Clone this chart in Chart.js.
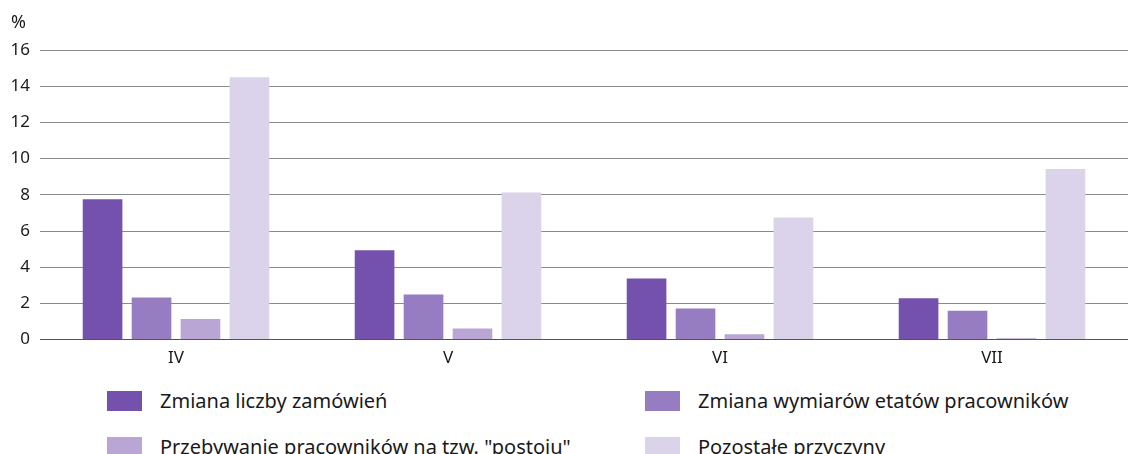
<!DOCTYPE html>
<html>
<head>
<meta charset="utf-8">
<script src="https://cdn.jsdelivr.net/npm/chart.js@4"></script>
<style>
  body { margin: 0; background: #fff; font-family: "Noto Sans", sans-serif; }
  #wrap { position: relative; width: 1128px; height: 376px; }
  #unit { position: absolute; left: 11px; top: 10px; font-size: 18px; color: #1a1a1a; line-height: 22px; }
  #legend { position: relative; width: 1128px; height: 78px; }
  .item { position: absolute; display: flex; align-items: center; font-size: 20px; color: #1a1a1a; white-space: nowrap; }
  .box { width: 35px; height: 20px; margin-right: 18px; }
</style>
</head>
<body>
<div id="wrap"><canvas id="chart"></canvas><div id="unit">%</div></div>
<div id="legend"></div>
<script>
// months (categories)
const months = ['IV', 'V', 'VI', 'VII'];
// series names
const seriesNames = [
  'Zmiana liczby zamówień',
  'Zmiana wymiarów etatów pracowników',
  'Przebywanie pracowników na tzw. "postoju"',
  'Pozostałe przyczyny'
];
// values in %
const ordersChange = [7.75, 4.93, 3.37, 2.28];
const hoursChange = [2.32, 2.49, 1.72, 1.6];
const downtime = [1.14, 0.61, 0.29, 0.08];
const otherReasons = [14.5, 8.13, 6.75, 9.42];
const yTicks = [0, 2, 4, 6, 8, 10, 12, 14, 16];

const colors = ['#7551ae', '#967cc0', '#b9a6d5', '#dbd3ea'];
const seriesValues = [ordersChange, hoursChange, downtime, otherReasons];
const fontFamily = '"Noto Sans", "DejaVu Sans", sans-serif';
const tickFont = { size: 17, family: fontFamily };

const ctx = document.getElementById('chart').getContext('2d');
new Chart(ctx, {
  type: 'bar',
  data: {
    labels: months,
    datasets: seriesValues.map((vals, i) => ({
      label: seriesNames[i],
      data: vals,
      backgroundColor: colors[i],
      categoryPercentage: 0.72,
      barPercentage: 0.81
    }))
  },
  options: {
    responsive: true,
    maintainAspectRatio: false,
    animation: false,
    // top padding leaves room for the "%" unit label
    layout: { padding: { top: 50, right: -3, left: 0, bottom: 0 } },
    scales: {
      x: {
        grid: { display: false, drawTicks: false },
        border: { display: false },
        ticks: { color: '#1a1a1a', font: tickFont, padding: 8 }
      },
      y: {
        min: 0,
        max: 16,
        afterBuildTicks: scale => { scale.ticks = yTicks.map(v => ({ value: v })); },
        afterFit: scale => { scale.width = 40; },
        grid: {
          color: ctx => ctx.tick && ctx.tick.value === 0 ? '#555' : '#8a8a8a',
          lineWidth: 1,
          drawTicks: false
        },
        border: { display: false },
        ticks: { color: '#1a1a1a', font: tickFont, padding: 10 }
      }
    },
    plugins: {
      legend: { display: false },
      tooltip: { enabled: false }
    }
  }
});

// legend below chart, two columns
const legend = document.getElementById('legend');
const spots = [[107, 11], [645, 11], [107, 57], [645, 57]];
seriesNames.forEach((name, i) => {
  const el = document.createElement('div');
  el.className = 'item';
  el.style.left = spots[i][0] + 'px';
  el.style.top = spots[i][1] + 'px';
  el.innerHTML = `<span class="box" style="background:${colors[i]}"></span><span>${name.replace(/"/g, '&quot;')}</span>`;
  legend.appendChild(el);
});
</script>
</body>
</html>
